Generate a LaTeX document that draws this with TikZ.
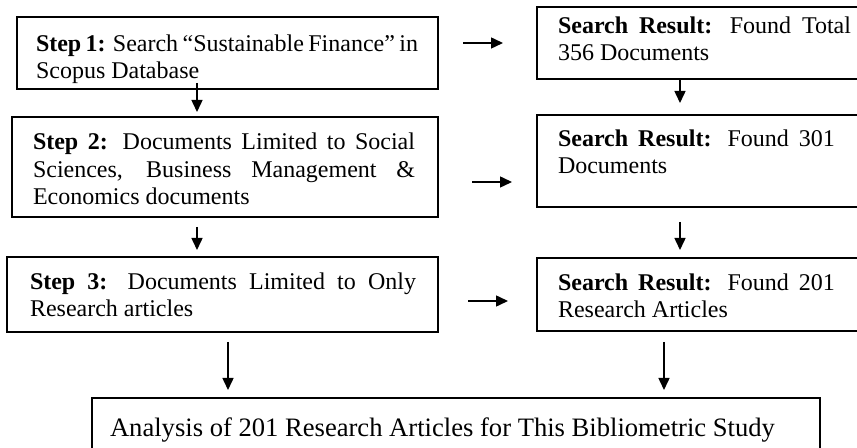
\documentclass[tikz,border=0pt]{standalone}
\usepackage{fontspec}
\setmainfont{Liberation Serif}
\usetikzlibrary{arrows.meta}
\begin{document}
\begin{tikzpicture}[x=0.5pt,y=-0.5pt,
  box/.style={draw, line width=1pt, inner sep=0pt, outer sep=0pt, anchor=north west},
  txt/.style={inner sep=0pt, outer sep=0pt, anchor=base west, align=left, font=\fontsize{12pt}{13.8pt}\selectfont},
  arr/.style={line width=0.75pt, -{Triangle[length=6pt,width=5.5pt]}}]
\clip (0,0) rectangle (857,448);
% boxes
\node[box, minimum width=210.5pt, minimum height=36pt] (b1) at (17,17) {};
\node[box, minimum width=213pt, minimum height=50pt] (b2) at (12,117) {};
\node[box, minimum width=215.5pt, minimum height=37.5pt] (b3) at (7,257) {};
\node[box, minimum width=166.5pt, minimum height=36pt] (r1) at (537,7) {};
\node[box, minimum width=166.5pt, minimum height=46pt] (r2) at (537,115) {};
\node[box, minimum width=166.5pt, minimum height=36.5pt] (r3) at (537,258) {};
\node[box, minimum width=364pt, minimum height=36pt] (bot) at (92,398) {};
% texts (anchor at the baseline of the last line)
\node[txt] (t1) at (36,79) {\makebox[191pt][s]{\textbf{Step 1:} Search “Sustainable Finance” in}\\Scopus Database};
\node[txt] (t2) at (33,205) {\makebox[191pt][s]{\textbf{Step 2:} Documents Limited to Social}\\\makebox[191pt][s]{Sciences, Business Management \&}\\Economics documents};
\node[txt] (t3) at (30,317) {\makebox[193pt][s]{\textbf{Step 3:} Documents Limited to Only}\\Research articles};
\node[txt] (t4) at (558,61) {\makebox[146.5pt][s]{\textbf{Search Result:} Found Total}\\356 Documents};
\node[txt] (t5) at (558,174) {\makebox[138.5pt][s]{\textbf{Search Result:} Found 301}\\Documents};
\node[txt] (t6) at (558,318) {\makebox[138.5pt][s]{\textbf{Search Result:} Found 201}\\Research Articles};
\node[txt, font=\fontsize{13.3pt}{15pt}\selectfont] (t7) at (110,437) {Analysis of 201 Research Articles for This Bibliometric Study};
% arrows
\draw[arr, shorten <=12.5pt, shorten >=17pt] (b1.east |- r1.west) -- (r1.west);
\draw[arr] ([xshift=-15.25pt,yshift=3pt]b1.south) -- ([xshift=-14pt,yshift=2.5pt]b2.north);
\draw[arr] ([xshift=-11.75pt]r1.south) -- ([xshift=-11.75pt,yshift=6pt]r2.north);
\draw[arr] ([xshift=17pt,yshift=-7.5pt]b2.east) -- ([xshift=-12.5pt,yshift=-10.5pt]r2.west);
\draw[arr] ([xshift=-14pt,yshift=-5pt]b2.south) -- ([xshift=-12.75pt,yshift=3.5pt]b3.north);
\draw[arr] ([xshift=-11.75pt,yshift=-7.5pt]r2.south) -- ([xshift=-11.75pt,yshift=4pt]r3.north);
\draw[arr] ([xshift=15pt,yshift=-3.25pt]b3.east) -- ([xshift=-14.5pt,yshift=-3.25pt]r3.west);
\draw[arr] ([xshift=2.75pt,yshift=-5pt]b3.south) -- ([xshift=-114pt,yshift=4pt]bot.north);
\draw[arr] ([xshift=-19.75pt,yshift=-5.5pt]r3.south) -- ([xshift=104pt,yshift=4pt]bot.north);
\end{tikzpicture}
\end{document}
